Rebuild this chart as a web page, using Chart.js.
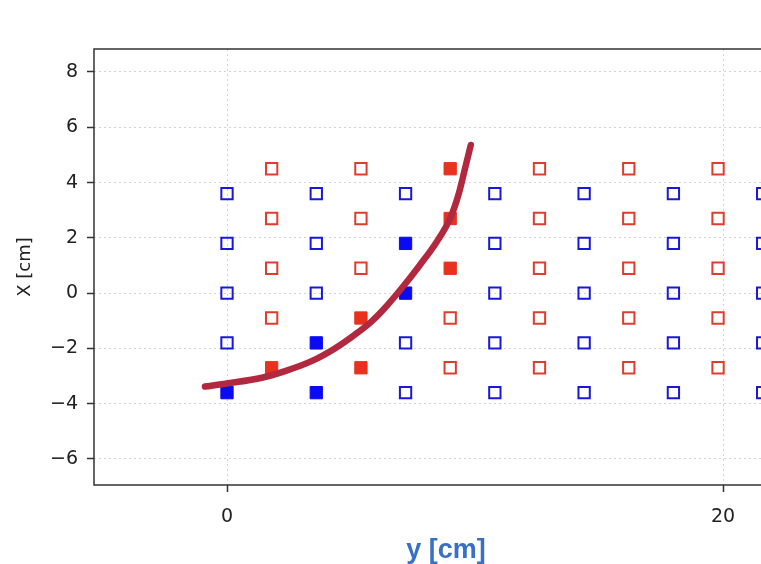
<!DOCTYPE html>
<html>
<head>
<meta charset="utf-8">
<script src="https://cdn.jsdelivr.net/npm/chart.js@4/dist/chart.umd.min.js"></script>
<style>
  html, body { margin: 0; padding: 0; background: #fff; overflow: hidden; width: 761px; height: 564px; }
  #wrap { position: absolute; left: 0; top: 0; width: 820px; height: 564px; }
</style>
</head>
<body>
<div id="wrap"><canvas id="c" width="820" height="564"></canvas></div>
<script>
// ---- data ----
const xTicks = [0, 20];
const yTicks = [-6, -4, -2, 0, 2, 4, 6, 8];

const blueCols = [0, 3.6, 7.2, 10.8, 14.4, 18, 21.6];
const blueRows = [-3.6, -1.8, 0, 1.8, 3.6];
const redCols = [1.8, 5.4, 9, 12.6, 16.2, 19.8];
const redRows = [-2.7, -0.9, 0.9, 2.7, 4.5];

const blueFilled = [[0, -3.6], [3.6, -3.6], [3.6, -1.8], [7.2, 0], [7.2, 1.8]];
const redFilled = [[1.8, -2.7], [5.4, -2.7], [5.4, -0.9], [9, 0.9], [9, 2.7], [9, 4.5]];

const curveX = [-0.89, 0.05, 1.40, 2.34, 3.41, 4.35, 5.16, 5.8, 6.3, 7.11, 7.78, 8.46, 9.0, 9.33, 9.6, 9.83];
const curveY = [-3.38, -3.26, -3.06, -2.82, -2.46, -2.0, -1.5, -1.05, -0.6, 0.25, 1.02, 1.86, 2.71, 3.55, 4.52, 5.36];

// ---- build ----
const isIn = (list, x, y) => list.some(p => p[0] === x && p[1] === y);
const grid = (cols, rows, filled) => {
  const out = [];
  cols.forEach(x => rows.forEach(y => { if (!isIn(filled, x, y)) out.push({x, y}); }));
  return out;
};
const toPts = arr => arr.map(p => ({x: p[0], y: p[1]}));
const curve = curveX.map((x, i) => ({x, y: curveY[i]}));

const fmt = v => (v < 0 ? '\u2212' + Math.abs(v) : String(v));

const frame = {
  id: 'frame',
  afterDatasetsDraw(chart) {
    const a = chart.chartArea, ctx = chart.ctx;
    ctx.save();
    ctx.strokeStyle = '#333';
    ctx.lineWidth = 1.5;
    ctx.strokeRect(a.left, a.top, a.right - a.left, a.bottom - a.top);
    ctx.restore();
  }
};

new Chart(document.getElementById('c'), {
  type: 'scatter',
  data: {
    datasets: [
      {
        label: 'path', data: curve, showLine: true, pointRadius: 0,
        borderColor: '#b2283e', borderWidth: 6.5,
        cubicInterpolationMode: 'monotone', borderCapStyle: 'round', borderJoinStyle: 'round'
      },
      {
        label: 'blue filled', data: toPts(blueFilled), pointStyle: 'rect', pointRadius: 8.7,
        backgroundColor: '#0a0af5', borderColor: '#0a0af5', borderWidth: 1
      },
      {
        label: 'red filled', data: toPts(redFilled), pointStyle: 'rect', pointRadius: 8.7,
        backgroundColor: '#e8321f', borderColor: '#e8321f', borderWidth: 1
      },
      {
        label: 'blue', data: grid(blueCols, blueRows, blueFilled), pointStyle: 'rect', pointRadius: 8,
        backgroundColor: 'rgba(255,255,255,0)', borderColor: '#1818d8', borderWidth: 2
      },
      {
        label: 'red', data: grid(redCols, redRows, redFilled), pointStyle: 'rect', pointRadius: 8,
        backgroundColor: 'rgba(255,255,255,0)', borderColor: '#e03c2e', borderWidth: 2
      }
    ]
  },
  options: {
    responsive: false,
    animation: false,
    events: [],
    layout: { padding: { top: 49, left: 0, right: 22, bottom: 0 } },
    plugins: { legend: { display: false }, tooltip: { enabled: false } },
    scales: {
      x: {
        type: 'linear', min: -5.363, max: 23.024,
        afterBuildTicks: s => { s.ticks = xTicks.map(v => ({value: v})); },
        afterFit: s => { s.height = 79; },
        grid: { color: '#d2d2d2', lineWidth: 1, tickLength: 7, tickColor: '#333', tickWidth: 1.5 },
        border: { display: false, dash: [2, 3] },
        ticks: { color: '#222', font: { family: 'DejaVu Sans', size: 19 }, padding: 14, callback: fmt, maxRotation: 0 },
        title: { display: true, text: 'y [cm]', color: '#3a6fc6', font: { family: 'Liberation Sans', size: 27, weight: 'bold', lineHeight: 1.0 }, padding: { top: 0, bottom: 0 } }
      },
      y: {
        type: 'linear', min: -6.941, max: 8.832,
        afterBuildTicks: s => { s.ticks = yTicks.map(v => ({value: v})); },
        afterFit: s => { s.width = 94; },
        grid: { color: '#d2d2d2', lineWidth: 1, tickLength: 7, tickColor: '#333', tickWidth: 1.5 },
        border: { display: false, dash: [2, 3] },
        ticks: { color: '#222', font: { family: 'DejaVu Sans', size: 19 }, padding: 9, callback: fmt },
        title: { display: true, text: 'X [cm]', color: '#222', font: { family: 'DejaVu Sans', size: 18 }, padding: { top: 15, bottom: 0 } }
      }
    }
  },
  plugins: [frame]
});
</script>
</body>
</html>
